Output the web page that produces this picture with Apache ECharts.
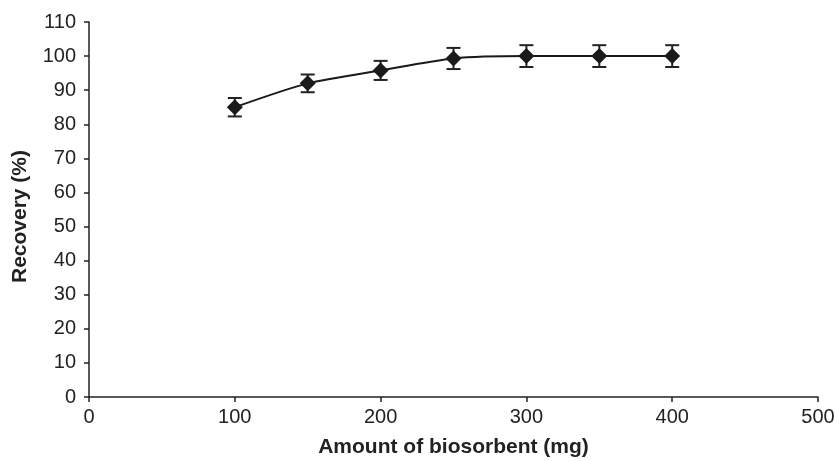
<!DOCTYPE html>
<html>
<head>
<meta charset="utf-8">
<script src="https://cdn.jsdelivr.net/npm/echarts@6/dist/echarts.min.js"></script>
<style>
  html, body { margin: 0; padding: 0; background: #fff; }
  #main { width: 839px; height: 461px; }
</style>
</head>
<body>
<div id="main"></div>
<script>
const amounts = [100, 150, 200, 250, 300, 350, 400];
const recovery = [85, 92, 95.8, 99.3, 100, 100, 100];
const errors = [2.7, 2.6, 2.8, 3.1, 3.2, 3.2, 3.2];

const chart = echarts.init(document.getElementById('main'));
const font = 'Liberation Sans, Arial, sans-serif';

const points = amounts.map((x, i) => [x, recovery[i]]);
const bars = amounts.map((x, i) => [x, recovery[i] - errors[i], recovery[i] + errors[i]]);

chart.setOption({
  animation: false,
  grid: { left: 89, right: 21, top: 22, bottom: 64, outerBoundsMode: 'none', containLabel: false },
  xAxis: {
    type: 'value', min: 0, max: 500, interval: 100,
    name: 'Amount of biosorbent (mg)', nameLocation: 'middle', nameGap: 40,
    nameTextStyle: { fontFamily: font, fontSize: 21, fontWeight: 'bold', color: '#222' },
    axisLine: { lineStyle: { color: '#222', width: 1.5 } },
    axisTick: { show: true, length: 5, lineStyle: { color: '#222', width: 1.5 } },
    axisLabel: { fontFamily: font, fontSize: 20, color: '#222', margin: 10 },
    splitLine: { show: false }
  },
  yAxis: {
    type: 'value', min: 0, max: 110, interval: 10,
    name: 'Recovery (%)', nameLocation: 'middle', nameGap: 58, nameRotate: 90,
    nameTextStyle: { fontFamily: font, fontSize: 21, fontWeight: 'bold', color: '#222', padding: [0, 14, 0, 0] },
    axisLine: { show: true, lineStyle: { color: '#222', width: 1.5 } },
    axisTick: { show: true, length: 5, lineStyle: { color: '#222', width: 1.5 } },
    axisLabel: { fontFamily: font, fontSize: 20, color: '#222', margin: 13 },
    splitLine: { show: false }
  },
  series: [
    {
      type: 'custom',
      z: 3,
      data: bars,
      renderItem: function (params, api) {
        const x = api.value(0);
        const lo = api.coord([x, api.value(1)]);
        const hi = api.coord([x, api.value(2)]);
        const cap = 7;
        const style = { stroke: '#222', lineWidth: 2 };
        return {
          type: 'group',
          children: [
            { type: 'line', shape: { x1: lo[0], y1: lo[1], x2: hi[0], y2: hi[1] }, style: style },
            { type: 'line', shape: { x1: lo[0] - cap, y1: lo[1], x2: lo[0] + cap, y2: lo[1] }, style: style },
            { type: 'line', shape: { x1: hi[0] - cap, y1: hi[1], x2: hi[0] + cap, y2: hi[1] }, style: style }
          ]
        };
      }
    },
    {
      type: 'line',
      z: 4,
      data: points,
      smooth: 0.25,
      symbol: 'diamond',
      symbolSize: 16,
      itemStyle: { color: '#1a1a1a' },
      lineStyle: { color: '#1a1a1a', width: 2 }
    }
  ]
});
</script>
</body>
</html>
